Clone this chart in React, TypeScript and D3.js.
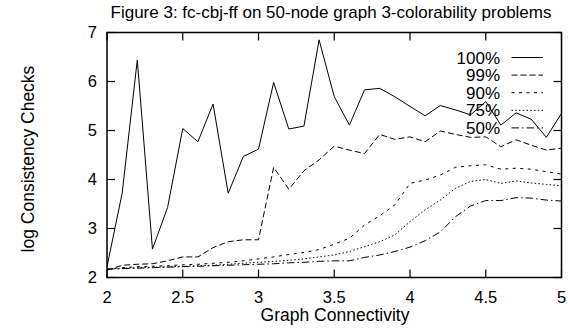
import React from "react";
import * as d3 from "d3";

const connectivity = [2.0, 2.1, 2.2, 2.3, 2.4, 2.5, 2.6, 2.7, 2.8, 2.9, 3.0, 3.1, 3.2, 3.3, 3.4, 3.5, 3.6, 3.7, 3.8, 3.9, 4.0, 4.1, 4.2, 4.3, 4.4, 4.5, 4.6, 4.7, 4.8, 4.9, 5.0];

const p100 = [2.22, 3.72, 6.44, 2.58, 3.43, 5.04, 4.77, 5.54, 3.72, 4.47, 4.62, 5.98, 5.03, 5.09, 6.85, 5.69, 5.11, 5.83, 5.86, 5.69, 5.49, 5.30, 5.51, 5.42, 5.32, 5.59, 5.11, 5.36, 5.23, 4.86, 5.35];
const p99 = [2.15, 2.25, 2.27, 2.28, 2.34, 2.42, 2.42, 2.61, 2.73, 2.77, 2.77, 4.25, 3.80, 4.18, 4.40, 4.68, 4.60, 4.53, 4.92, 4.82, 4.87, 4.77, 4.99, 4.92, 4.86, 4.87, 4.67, 4.81, 4.70, 4.60, 4.64];
const p90 = [2.17, 2.20, 2.22, 2.23, 2.24, 2.26, 2.27, 2.29, 2.31, 2.34, 2.38, 2.42, 2.47, 2.51, 2.57, 2.68, 2.80, 3.07, 3.26, 3.48, 3.92, 3.99, 4.09, 4.25, 4.28, 4.30, 4.21, 4.23, 4.21, 4.16, 4.11];
const p75 = [2.17, 2.19, 2.20, 2.21, 2.22, 2.23, 2.24, 2.25, 2.27, 2.29, 2.31, 2.33, 2.35, 2.38, 2.42, 2.46, 2.53, 2.63, 2.73, 2.87, 3.14, 3.38, 3.58, 3.82, 3.96, 4.00, 3.92, 3.97, 3.93, 3.90, 3.87];
const p50 = [2.17, 2.18, 2.19, 2.20, 2.21, 2.22, 2.23, 2.24, 2.25, 2.26, 2.27, 2.28, 2.30, 2.31, 2.33, 2.34, 2.34, 2.41, 2.46, 2.53, 2.62, 2.75, 2.93, 3.24, 3.46, 3.57, 3.57, 3.63, 3.62, 3.58, 3.56];

const seriesNames = ["100%", "99%", "90%", "75%", "50%"];
const seriesValues = [p100, p99, p90, p75, p50];
const dashes = ["none", "6,3", "3,4.5", "1.5,2.25", "7.5,3,1.5,3"];

const xTicks = [2, 2.5, 3, 3.5, 4, 4.5, 5];
const yTicks = [2, 3, 4, 5, 6, 7];

const title = "Figure 3: fc-cbj-ff on 50-node graph 3-colorability problems";
const xLabel = "Graph Connectivity";
const yLabel = "log Consistency Checks";

const W = 568, H = 329;
const L = 107, R = 561.5, T = 32.5, B = 277.5;
const FONT = "'Liberation Sans', Arial, Helvetica, sans-serif";

export default function App() {
  const x = d3.scaleLinear().domain([2, 5]).range([L, R]);
  const y = d3.scaleLinear().domain([2, 7]).range([B, T]);
  const line = d3.line<number>().x((_, i) => x(connectivity[i])).y((d) => y(d));
  const tick = 8;

  return (
    <svg width={W} height={H} style={{ position: "absolute", left: 0, top: 0, background: "#fff" }} fontFamily={FONT}>
      <rect x={0} y={0} width={W} height={H} fill="#fff" />
      <text x={331} y={17.5} textAnchor="middle" fontSize={17}>{title}</text>

      {seriesValues.map((vals, i) => (
        <path key={seriesNames[i]} d={line(vals) || ""} fill="none" stroke="#000" strokeWidth={1}
          strokeDasharray={dashes[i]} />
      ))}

      {xTicks.map((t) => (
        <g key={"x" + t}>
          <line x1={x(t)} x2={x(t)} y1={B} y2={B - tick} stroke="#000" strokeWidth={1.2} />
          <line x1={x(t)} x2={x(t)} y1={T} y2={T + tick} stroke="#000" strokeWidth={1.2} />
          <text x={x(t)} y={303} textAnchor="middle" fontSize={16.5}>{String(t)}</text>
        </g>
      ))}
      {yTicks.map((t) => (
        <g key={"y" + t}>
          <line x1={L} x2={L + tick} y1={y(t)} y2={y(t)} stroke="#000" strokeWidth={1.2} />
          <line x1={R} x2={R - tick} y1={y(t)} y2={y(t)} stroke="#000" strokeWidth={1.2} />
          <text x={97} y={y(t)} dy="0.36em" textAnchor="end" fontSize={16.5}>{String(t)}</text>
        </g>
      ))}

      <rect x={L} y={T} width={R - L} height={B - T} fill="none" stroke="#000" strokeWidth={1.5} />

      <text x={335} y={321} textAnchor="middle" fontSize={17.5}>{xLabel}</text>
      <text transform={`translate(34,159) rotate(-90)`} textAnchor="middle" fontSize={17.5}>{yLabel}</text>

      {seriesNames.map((name, i) => {
        const ly = 57.5 + i * 17.6;
        return (
          <g key={"lg" + name}>
            <text x={500} y={ly} dy="0.36em" textAnchor="end" fontSize={17}>{name}</text>
            <line x1={511.5} x2={543} y1={ly} y2={ly} stroke="#000" strokeWidth={1} strokeDasharray={dashes[i]} />
          </g>
        );
      })}
    </svg>
  );
}
